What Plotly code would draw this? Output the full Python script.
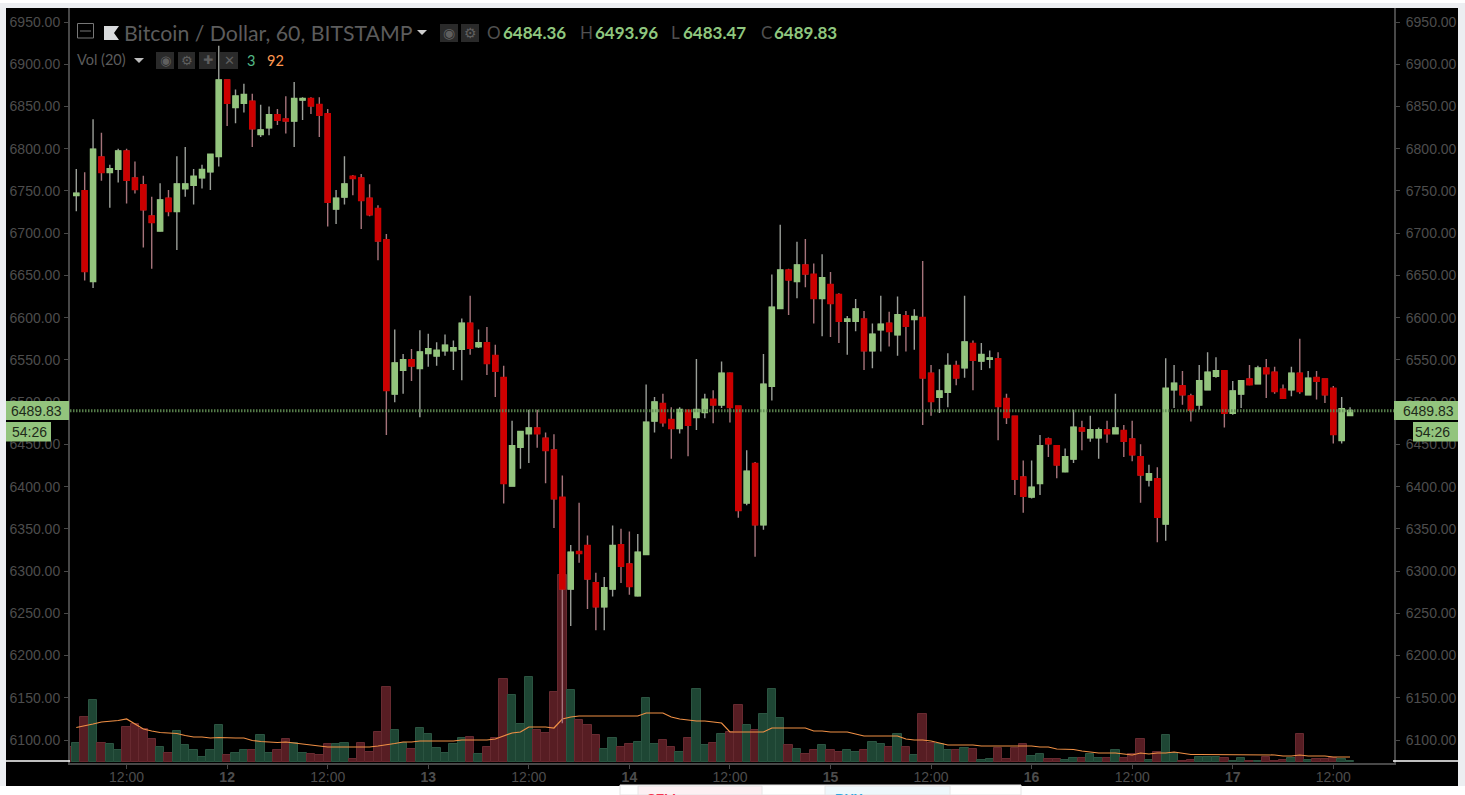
import pandas as pd
import plotly.graph_objects as go

# ---------- data ----------
opens = [6745,6750,6643,6790,6772,6776,6797,6765,6757,6720,6703,6741,6726,6753,6757,6766,6773,6791,6881,6849,
         6854,6856,6817,6825,6840,6835,6833,6858,6859,6852,6841,6729,6743,6767,6765,6741,6729,6692,6510,6538,
         6550,6540,6558,6555,6561,6561,6563,6593,6566,6570,6555,6529,6401,6447,6463,6469,6457,6443,6387,6279,
         6323,6330,6286,6258,6279,6331,6308,6271,6320,6478,6498,6479,6469,6490,6482,6488,6503,6497,6534,6495,
         6381,6427,6355,6519,6611,6656,6643,6662,6651,6623,6639,6627,6596,6596,6598,6561,6586,6593,6580,6602,
         6598,6600,6534,6506,6512,6543,6541,6569,6549,6551,6551,6504,6483,6411,6388,6404,6456,6448,6418,6433,
         6469,6458,6458,6467,6463,6466,6456,6435,6408,6409,6356,6515,6519,6507,6497,6515,6531,6537,6487,6510,
         6527,6522,6540,6535,6515,6515,6534,6509,6529,6527,6516,6455,6484.36]
highs = [6776,6772,6835,6819,6781,6800,6800,6785,6768,6743,6759,6751,6791,6802,6776,6781,6793,6922,6881,6870,
         6877,6865,6852,6850,6847,6862,6879,6861,6861,6861,6847,6751,6791,6769,6770,6758,6733,6699,6586,6557,
         6563,6585,6581,6571,6580,6573,6599,6626,6586,6589,6568,6543,6478,6465,6491,6491,6464,6462,6413,6331,
         6381,6342,6298,6293,6354,6350,6347,6344,6521,6506,6510,6494,6494,6491,6551,6510,6514,6548,6535,6495,
         6443,6429,6557,6651,6710,6658,6690,6693,6664,6675,6654,6629,6602,6622,6608,6593,6626,6607,6625,6608,
         6610,6667,6544,6539,6558,6549,6626,6573,6570,6561,6559,6510,6483,6431,6431,6461,6458,6448,6445,6491,
         6478,6484,6470,6478,6510,6473,6478,6450,6426,6423,6552,6544,6537,6510,6544,6559,6553,6537,6525,6526,
         6544,6543,6551,6542,6521,6542,6575,6537,6537,6527,6519,6506,6493.96]
lows = [6726,6644,6635,6762,6730,6760,6735,6747,6683,6658,6702,6720,6680,6743,6734,6753,6751,6779,6827,6830,
        6843,6802,6814,6816,6828,6818,6802,6834,6841,6814,6708,6711,6734,6745,6705,6720,6668,6461,6500,6510,
        6525,6482,6542,6543,6555,6538,6526,6556,6564,6532,6506,6380,6401,6421,6428,6446,6404,6351,6120,6235,
        6310,6255,6230,6230,6270,6286,6272,6270,6319,6464,6471,6433,6463,6436,6467,6481,6475,6493,6476,6363,
        6378,6317,6349,6502,6611,6603,6623,6636,6593,6578,6577,6570,6556,6584,6538,6540,6560,6566,6555,6560,
        6562,6473,6484,6487,6494,6520,6529,6514,6538,6540,6455,6474,6390,6369,6386,6390,6435,6410,6417,6428,
        6443,6453,6433,6452,6463,6435,6430,6381,6400,6334,6336,6493,6497,6477,6491,6515,6529,6470,6485,6493,
        6520,6522,6505,6510,6505,6507,6510,6508,6503,6499,6451,6451,6483.47]
closes = [6747,6655,6799,6772,6776,6797,6763,6752,6728,6713,6739,6726,6758,6758,6767,6775,6793,6881,6854,6862,
          6864,6824,6822,6840,6834,6833,6859,6859,6851,6840,6737,6741,6758,6765,6739,6722,6691,6514,6546,6550,
          6543,6559,6563,6561,6567,6564,6593,6564,6570,6546,6537,6404,6448,6465,6469,6463,6443,6386,6279,6322,
          6321,6291,6258,6280,6330,6306,6282,6322,6476,6500,6476,6469,6491,6473,6491,6503,6497,6534,6494,6372,
          6418,6355,6521,6612,6656,6645,6662,6652,6623,6647,6617,6596,6598,6610,6561,6580,6592,6584,6603,6590,
          6601,6529,6501,6513,6543,6529,6571,6550,6556,6552,6495,6482,6409,6389,6399,6448,6451,6426,6435,6470,
          6466,6467,6467,6463,6469,6454,6438,6414,6415,6364,6516,6522,6509,6491,6525,6535,6537,6487,6513,6525,
          6521,6540,6534,6513,6505,6534,6513,6528,6525,6509,6462,6492,6489.83]
# volume starts one hour before the first visible candle
volumes = [15,19,45,62,19,18,12,35,38,33,23,15,9,31,17,12,5,12,37,7,
           9,12,12,27,9,12,23,19,9,8,7,18,18,19,3,19,10,30,75,32,
           19,13,34,28,14,9,18,24,25,8,15,24,83,67,38,85,32,29,70,187,
           72,42,37,27,13,24,15,18,20,64,18,22,15,10,24,73,17,19,28,30,
           57,37,32,48,73,44,17,13,8,12,17,12,10,12,10,12,20,18,15,28,
           15,7,48,19,18,12,12,14,13,2,3,14,3,14,18,6,8,3,3,2,
           4,4,8,4,4,12,4,8,23,2,10,27,9,1,2,5,5,5,4,1,
           4,1,1,5,1,2,4,28,2,3,3,4,3,1]
vol_ma = [34.5,36,38,40,40.5,41.5,43,38,33,31,29.5,29,28.5,26.5,25,25,24,24.5,24,24,
          24,21.5,20.5,20,19.5,20,19,17.5,16.5,15.5,15,15,15,15,15,15,16,17,18.5,20,
          20,21,21,21,21,21,22,22,22,22,23,26,29,30,35,35,35,34,43,45,
          46,46,46,46,46,46,46,46,49,49,49,45,43,42,41,41,40,39,30,30,
          30,29.5,30,34,34,34,34,34,31,31,30,30,30,28,26,26,26,26,26,23,
          22,22,21,19,17,17,17,17,16,16,16,16,16,16,16,15,15,13,13,12.5,
          11,10,9,9,9,8,7,9,8,9,9,10,9,7.5,7.5,7.5,7.5,7.5,7.5,7.5,
          7.5,7.5,7.5,7,6,6,7,6,6,6,5,5,5]
day_ticks = ["2018-06-11 12:00","2018-06-12 00:00","2018-06-12 12:00","2018-06-13 00:00","2018-06-13 12:00",
             "2018-06-14 00:00","2018-06-14 12:00","2018-06-15 00:00","2018-06-15 12:00","2018-06-16 00:00",
             "2018-06-16 12:00","2018-06-17 00:00","2018-06-17 12:00"]
day_labels = ["12:00","<b>12</b>","12:00","<b>13</b>","12:00","<b>14</b>","12:00","<b>15</b>","12:00",
              "<b>16</b>","12:00","<b>17</b>","12:00"]
price_ticks = [6100,6150,6200,6250,6300,6350,6400,6450,6500,6550,6600,6650,6700,6750,6800,6850,6900,6950]
last_price = 6489.83

# ---------- styling ----------
W, H = 1465, 795
UP, DOWN = "#93c47d", "#cc0000"
UP_WICK, DOWN_WICK = "#9a9e98", "#a5737a"
TICK = "#4d4d4d"
AXIS = "#484848"
PAGE = "#eceef1"
def px(x): return x / W
def py(y): return 1 - y / H

LEFT, RIGHT, TOP, BOTTOM = 70, 1394, 8, 763
FIRST_CANDLE_PX, HOUR_PX = 76.3, 8.38
dates = pd.date_range("2018-06-11 06:00", periods=len(opens), freq="h")
vol_dates = pd.date_range("2018-06-11 05:00", periods=len(volumes), freq="h")
x_start = dates[0] + pd.Timedelta(hours=(LEFT - FIRST_CANDLE_PX) / HOUR_PX)
x_end = dates[0] + pd.Timedelta(hours=(RIGHT - FIRST_CANDLE_PX) / HOUR_PX)
p_top = 6950 + (22 - TOP) * 1.1838
p_bot = 6950 - (BOTTOM - 22) * 1.1838

vol_up = [False] + [c >= o for o, c in zip(opens, closes)]
fig = go.Figure()
fig.add_bar(x=vol_dates, y=volumes, xaxis="x", yaxis="y",
            marker=dict(color=["#1e4634" if u else "#571d23" for u in vol_up],
                        line=dict(color=["#2b5441" if u else "#672a30" for u in vol_up], width=1)),
            hoverinfo="skip", showlegend=False)
fig.add_scatter(x=dates, y=vol_ma, mode="lines", line=dict(color="#f09045", width=1.2),
                xaxis="x", yaxis="y", hoverinfo="skip", showlegend=False)
# wicks
fig.add_candlestick(x=dates, open=opens, high=highs, low=lows, close=closes, xaxis="x", yaxis="y2",
                    increasing=dict(line=dict(color=UP_WICK, width=1.4), fillcolor=UP),
                    decreasing=dict(line=dict(color=DOWN_WICK, width=1.4), fillcolor=DOWN),
                    whiskerwidth=0, hoverinfo="skip", showlegend=False)
# bodies
fig.add_candlestick(x=dates, open=opens, close=closes,
                    high=[max(o, c) for o, c in zip(opens, closes)],
                    low=[min(o, c) for o, c in zip(opens, closes)], xaxis="x", yaxis="y2",
                    increasing=dict(line=dict(color=UP, width=2), fillcolor=UP),
                    decreasing=dict(line=dict(color=DOWN, width=2), fillcolor=DOWN),
                    whiskerwidth=0, hoverinfo="skip", showlegend=False)
# carrier for the right price axis
fig.add_scatter(x=[dates[0]], y=[last_price], xaxis="x", yaxis="y3", mode="markers",
                marker=dict(opacity=0), hoverinfo="skip", showlegend=False)

def rect(x0, y0, x1, y1, fill, layer="above", line=None):
    return dict(type="rect", xref="paper", yref="paper", x0=px(x0), x1=px(x1), y0=py(y0), y1=py(y1),
                fillcolor=fill, layer=layer, line=dict(width=1 if line else 0, color=line or fill))
def hline(x0, x1, y, color, width=1, layer="above"):
    return dict(type="line", xref="paper", yref="paper", x0=px(x0), x1=px(x1), y0=py(y), y1=py(y),
                line=dict(color=color, width=width), layer=layer)
def poly(points, fill, layer="above"):
    d = "M" + " L".join(f"{px(a):.5f},{py(b):.5f}" for a, b in points) + " Z"
    return dict(type="path", xref="paper", yref="paper", path=d, fillcolor=fill,
                line=dict(width=0), layer=layer)

shapes = [
    rect(6, 8, 1458, 786, "#000000", layer="below"),
    # browser page around the chart
    rect(0, 0, 1465, 3, "#ffffff", layer="below"),
    rect(0, 786, 1465, 795, "#ffffff", layer="below"),
    rect(620, 785, 1021, 795, "#ffffff", layer="below", line="#e4e4e4"),
    rect(638, 786, 762, 795, "#fdf0f3", layer="below", line="#e6e6e6"),
    rect(825, 786, 950, 795, "#eef8fc", layer="below", line="#e6e6e6"),
    # indicator buttons
    rect(440, 24, 458, 42, "#2a2a2a", layer="below"),
    rect(461, 24, 479, 42, "#2a2a2a", layer="below"),
    rect(156, 52, 174, 69, "#2a2a2a", layer="below"),
    rect(178, 52, 195, 69, "#2a2a2a", layer="below"),
    rect(199, 52, 216, 69, "#2a2a2a", layer="below"),
    rect(220, 52, 238, 69, "#2a2a2a", layer="below"),
    # collapse icon and logo
    dict(type="rect", xref="paper", yref="paper", x0=px(77.5), x1=px(93.5), y0=py(23.5), y1=py(38),
         line=dict(color="#777777", width=1), layer="above"),
    hline(80, 91, 31, "#777777", 1),
    poly([(104, 26), (119, 26), (114, 33), (119, 40), (104, 40)], "#d8dadc"),
    poly([(417, 30), (427, 30), (422, 35)], "#cfcfcf"),
    poly([(134, 58), (144, 58), (139, 63)], "#bdbdbd"),
    # last-price line
    dict(type="line", xref="x", yref="y2", x0=x_start, x1=x_end, y0=last_price, y1=last_price,
         line=dict(color="#5f8a52", width=3, dash="1.5px,1.5px"), opacity=0.9, layer="above"),
    # white separators on the panel
    hline(6, 70, 761, "#ffffff", 1.5),
    hline(1393, 1458, 761, "#ffffff", 1.5),
    # price labels
    rect(6, 401, 69, 420, UP),
    rect(6, 422, 51, 441.5, UP),
    rect(1394, 401, 1458, 420, UP),
    rect(1413, 422, 1458, 441.5, UP),
]
for a, b in [(0, 130), (132, 180), (182, 229), (231, 361), (363, 643), (645, 743), (745, 857), (859, 1409), (1411, 1465)]:
    shapes.append(rect(a, 0, b, 3, "#ffffff", layer="below"))

def note(x, y, text, color, size=14, family="Liberation Sans", anchor="left"):
    return dict(xref="paper", yref="paper", x=px(x), y=py(y), text=text, showarrow=False,
                xanchor=anchor, yanchor="middle", align=anchor,
                font=dict(color=color, size=size, family=family), borderpad=0, borderwidth=0)

LATO = "Lato"
annotations = [
    note(124, 33, "Bitcoin / Dollar, 60, BITSTAMP", "#5c5c5c", 21.3, LATO),
    note(449, 33, "◉", "#5f5f5f", 14, "DejaVu Sans", "center"),
    note(470, 33, "⚙", "#5f5f5f", 14, "DejaVu Sans", "center"),
    note(487, 33, "O", "#505050", 17, LATO), note(503, 33, "<b>6484.36</b>", "#8fc77f", 17, LATO),
    note(580, 33, "H", "#505050", 17, LATO), note(595, 33, "<b>6493.96</b>", "#8fc77f", 17, LATO),
    note(671, 33, "L", "#505050", 17, LATO), note(683, 33, "<b>6483.47</b>", "#8fc77f", 17, LATO),
    note(761, 33, "C", "#505050", 17, LATO), note(774, 33, "<b>6489.83</b>", "#8fc77f", 17, LATO),
    note(77, 60, "Vol (20)", "#5c5c5c", 14.5, LATO),
    note(165, 60.5, "◉", "#5f5f5f", 13, "DejaVu Sans", "center"),
    note(186.5, 60.5, "⚙", "#5f5f5f", 13, "DejaVu Sans", "center"),
    note(207.5, 60.5, "✚", "#5f5f5f", 12, "DejaVu Sans", "center"),
    note(229, 60.5, "✕", "#5f5f5f", 13, "DejaVu Sans", "center"),
    note(247, 60.5, "3", "#53b987", 14.5, LATO),
    note(267, 60.5, "92", "#ff9850", 14.5, LATO),
    note(11, 411, "6489.83", "#1e2a1a", 14),
    note(12, 432, "54:26", "#1e2a1a", 14),
    note(1403, 411, "6489.83", "#1e2a1a", 14),
    note(1415, 432, "54:26", "#1e2a1a", 14),
    note(647, 798, "<b>SELL</b>", "#f5334f", 13),
    note(835, 798, "<b>BUY</b>", "#2fa8e0", 13),
]

price_axis = dict(range=[p_bot, p_top], domain=[py(BOTTOM), py(TOP)], overlaying="y",
                  tickvals=price_ticks, tickformat=".2f", ticks="outside", ticklen=4, tickwidth=1,
                  tickcolor=AXIS, showline=True, linecolor=AXIS, linewidth=2, showgrid=False, zeroline=False,
                  tickfont=dict(color=TICK, size=14, family="Liberation Sans"))

fig.update_layout(
    width=W, height=H, margin=dict(l=0, r=0, t=0, b=0, autoexpand=False),
    paper_bgcolor=PAGE, plot_bgcolor="rgba(0,0,0,0)", bargap=0, boxgap=0.22, showlegend=False,
    xaxis=dict(domain=[px(LEFT), px(RIGHT)], type="date", range=[x_start, x_end], rangeslider=dict(visible=False),
               tickvals=day_ticks, ticktext=day_labels, ticks="outside", ticklen=4, tickwidth=1, tickcolor=AXIS,
               showline=True, linecolor=AXIS, linewidth=2, showgrid=False, zeroline=False, ticklabelstandoff=-4,
               tickfont=dict(color=TICK, size=14, family="Liberation Sans"), anchor="y"),
    yaxis=dict(domain=[py(BOTTOM), py(TOP)], range=[-1, BOTTOM - TOP - 1], visible=False, fixedrange=True),
    yaxis2=dict(side="left", anchor="x", ticklabelstandoff=1, **price_axis),
    yaxis3=dict(side="right", anchor="x", ticklabelstandoff=3, **price_axis),
    shapes=shapes, annotations=annotations,
)
fig.write_html("out.html", config=dict(displayModeBar=False),
               post_script="document.body.style.margin='0';document.body.style.overflow='hidden';")
